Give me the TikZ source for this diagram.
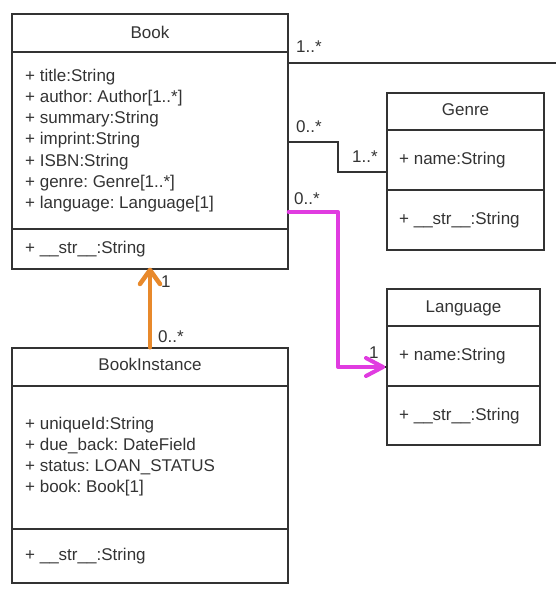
\documentclass[tikz,border=0pt]{standalone}
\usepackage{fontspec}
\setmainfont{Liberation Sans}
\frenchspacing
\definecolor{ink}{HTML}{333333}
\definecolor{mag}{HTML}{E03CE0}
\definecolor{orng}{HTML}{E8892B}
\tikzset{
  umlbox/.style={draw=ink, line width=1.4pt, rectangle, inner sep=0pt},
  divider/.style={draw=ink, line width=1.4pt},
  txt/.style={anchor=base west, inner sep=0pt, text=ink, font=\fontsize{17}{20}\selectfont},
  ttl/.style={anchor=base, inner sep=0pt, text=ink, font=\fontsize{17}{20}\selectfont},
  assoc/.style={draw=ink, line width=1.3pt},
  magline/.style={draw=mag, line width=4pt, line join=round, line cap=round},
  orline/.style={draw=orng, line width=4.5pt, line join=round, line cap=round},
}
\begin{document}
\begin{tikzpicture}[x=1pt, y=-1pt]
\useasboundingbox (0,0) rectangle (556,595);
% Book
\node[umlbox, minimum width=276pt, minimum height=255pt] (book) at (150,141.5) {};
\draw[divider] (12,52) -- (288,52);
\draw[divider] (12,229) -- (288,229);
\node[ttl] (booktitle) at (150,38) {Book};
\node[txt] (b1) at (25,81) {+ title:String};
\node[txt] (b2) at (25,102.3) {+ author: Author[1..*]};
\node[txt] (b3) at (25,123.6) {+ summary:String};
\node[txt] (b4) at (25,144.9) {+ imprint:String};
\node[txt] (b5) at (25,166.2) {+ ISBN:String};
\node[txt] (b6) at (25,187.5) {+ genre: Genre[1..*]};
\node[txt] (b7) at (25,208.8) {+ language: Language[1]};
\node[txt] (bm) at (25,253) {+ \_\_str\_\_:String};
% Genre
\node[umlbox, minimum width=157pt, minimum height=157pt] (genre) at (465.5,171.5) {};
\draw[divider] (387,130) -- (544,130);
\draw[divider] (387,190) -- (544,190);
\node[ttl] (genretitle) at (465.5,115) {Genre};
\node[txt] (g1) at (399,164) {+ name:String};
\node[txt] (gm) at (399,224) {+ \_\_str\_\_:String};
% Language
\node[umlbox, minimum width=153pt, minimum height=156pt] (lang) at (463.5,367) {};
\draw[divider] (387,326) -- (540,326);
\draw[divider] (387,386) -- (540,386);
\node[ttl] (langtitle) at (463.5,312) {Language};
\node[txt] (l1) at (399,360) {+ name:String};
\node[txt] (lm) at (399,420) {+ \_\_str\_\_:String};
% BookInstance
\node[umlbox, minimum width=276pt, minimum height=235pt] (bi) at (150,465.5) {};
\draw[divider] (12,386) -- (288,386);
\draw[divider] (12,529) -- (288,529);
\node[ttl] (bititle) at (150,370) {BookInstance};
\node[txt] (i1) at (25,429) {+ uniqueId:String};
\node[txt] (i2) at (25,450) {+ due\_back: DateField};
\node[txt] (i3) at (25,471) {+ status: LOAN\_STATUS};
\node[txt] (i4) at (25,492) {+ book: Book[1]};
\node[txt] (im) at (25,560) {+ \_\_str\_\_:String};
% connectors
\coordinate (rightend) at (556,63);
\draw[assoc] (book.east |- rightend) -- (rightend);
\node[txt] (m1) at (296,52) {1..*};
\draw[assoc] (book.east |- 0,142) -- (338,142) -- (338,172) -- (genre.west |- 0,172);
\node[txt] (m2) at (296,132) {0..*};
\node[txt] (m3) at (352,162) {1..*};
\draw[assoc] (378,367) -- (lang.west |- 0,367);
\coordinate (magtip) at (383,367);
\draw[magline] (book.east |- 0,212) -- (338,212) -- (338,367) -- (magtip);
\draw[magline] (magtip) ++(-17,-9) -- (magtip) -- ++(-17,9);
\node[txt] (m4) at (294,204) {0..*};
\node[txt] (m5) at (369,358) {1};
\coordinate (ortip) at (150,270);
\draw[orline] (bi.north) -- (ortip);
\draw[orline] (ortip) ++(-10,14) -- (ortip) -- ++(10,14);
\node[txt] (m6) at (161,287) {1};
\node[txt] (m7) at (158,342) {0..*};
\end{tikzpicture}
\end{document}
